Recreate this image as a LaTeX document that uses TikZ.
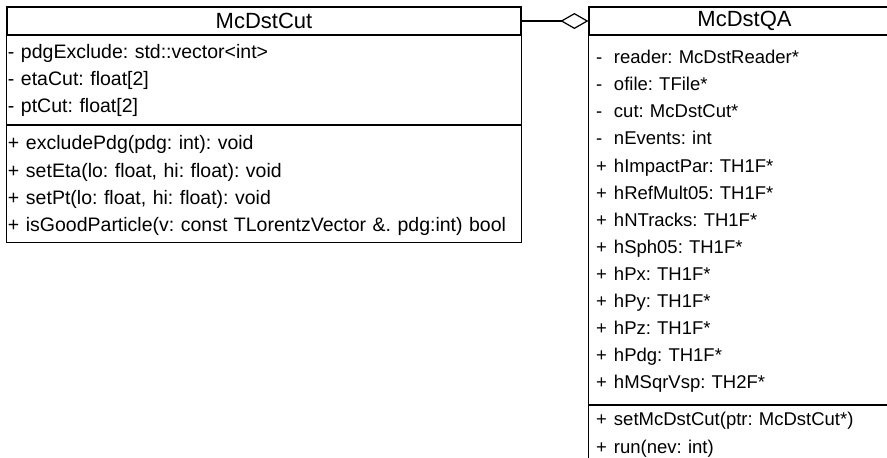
\documentclass[tikz,border=0pt]{standalone}
\usepackage{fontspec}
\setmainfont{Liberation Sans}
\frenchspacing
\usetikzlibrary{arrows.meta,positioning}
\tikzset{
    classhead/.style={draw,line width=1.2pt,inner sep=0pt,minimum height=28pt,font=\fontsize{22}{26}\selectfont},
    member/.style={minimum height=26.7pt,inner ysep=0pt,text height=14pt,text depth=5pt,align=left},
    cutrow/.style={member,text width=512pt,inner xsep=1pt,font=\fontsize{19.5}{23}\selectfont},
    qarow/.style={member,text width=297pt,inner xsep=7pt,font=\fontsize{18.5}{22}\selectfont},
    box/.style={line width=1.2pt},
    aggr/.style={-{Diamond[open,length=28pt,width=16pt]},line width=1.2pt}
}
\newcommand{\vis}[1]{\makebox[18pt][l]{#1}}

\begin{document}
\begin{tikzpicture}[x=1pt,y=1pt]

                \useasboundingbox (0,0) rectangle (887,-458);
                \clip (0,0) rectangle (887,-458);

                % McDstCut
                \node[classhead,minimum width=514pt] (cut head) at (264,-21) {McDstCut};

                \node[cutrow] (cut a1) [below=5pt of cut head] {- pdgExclude: std::vector<int>};
                \node[cutrow] (cut a2) [below=0pt of cut a1]   {- etaCut: float[2]};
                \node[cutrow] (cut a3) [below=0pt of cut a2]   {- ptCut: float[2]};

                \node[cutrow] (cut m1) [below=10pt of cut a3]  {\vis{+}excludePdg(pdg: int): void};
                \node[cutrow] (cut m2) [below=0pt of cut m1]   {\vis{+}setEta(lo: float, hi: float): void};
                \node[cutrow] (cut m3) [below=0pt of cut m2]   {\vis{+}setPt(lo: float, hi: float): void};
                \node[cutrow] (cut m4) [below=0pt of cut m3]   {+ isGoodParticle(v: const TLorentzVector \&. pdg:int) bool};

                \draw[box] (cut head.south west) rectangle ([yshift=-3pt]cut a3.south east);
                \draw[box] ([yshift=-3pt]cut a3.south west) rectangle ([yshift=-2pt]cut m4.south east);

                % McDstQA
                \node[classhead,minimum width=311pt] (qa head) at (744.5,-21) {McDstQA};

                \node[qarow] (qa a1)  [below=10pt of qa head] {\vis{-}reader: McDstReader*};
                \node[qarow] (qa a2)  [below=0pt of qa a1]    {\vis{-}ofile: TFile*};
                \node[qarow] (qa a3)  [below=0pt of qa a2]    {\vis{-}cut: McDstCut*};
                \node[qarow] (qa a4)  [below=0pt of qa a3]    {\vis{-}nEvents: int};
                \node[qarow] (qa a5)  [below=0pt of qa a4]    {\vis{+}hImpactPar: TH1F*};
                \node[qarow] (qa a6)  [below=0pt of qa a5]    {\vis{+}hRefMult05: TH1F*};
                \node[qarow] (qa a7)  [below=0pt of qa a6]    {\vis{+}hNTracks: TH1F*};
                \node[qarow] (qa a8)  [below=0pt of qa a7]    {\vis{+}hSph05: TH1F*};
                \node[qarow] (qa a9)  [below=0pt of qa a8]    {\vis{+}hPx: TH1F*};
                \node[qarow] (qa a10) [below=0pt of qa a9]    {\vis{+}hPy: TH1F*};
                \node[qarow] (qa a11) [below=0pt of qa a10]   {\vis{+}hPz: TH1F*};
                \node[qarow] (qa a12) [below=0pt of qa a11]   {\vis{+}hPdg: TH1F*};
                \node[qarow] (qa a13) [below=0pt of qa a12]   {\vis{+}hMSqrVsp: TH2F*};

                \node[qarow] (qa m1)  [below=10pt of qa a13]  {\vis{+}setMcDstCut(ptr: McDstCut*)};
                \node[qarow] (qa m2)  [below=0pt of qa m1]    {\vis{+}run(nev: int)};

                \draw[box] (qa head.south west) rectangle ([yshift=-7pt]qa a13.south east);
                \draw[box] ([yshift=-7pt]qa a13.south west) rectangle ([yshift=-20pt]qa m2.south east);

                % aggregation
                \draw[aggr] (cut head.east) -- (qa head.west);

\end{tikzpicture}
\end{document}
